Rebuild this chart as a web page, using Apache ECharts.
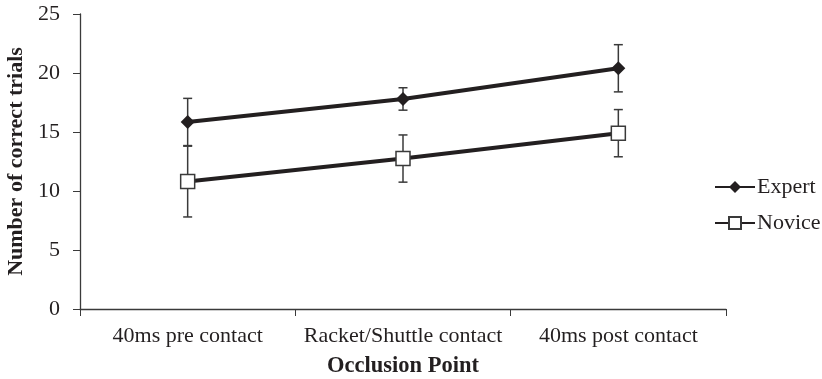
<!DOCTYPE html>
<html>
<head>
<meta charset="utf-8">
<script src="https://cdn.jsdelivr.net/npm/echarts@6/dist/echarts.min.js"></script>
<style>html,body{margin:0;padding:0;background:#fff;}#c{width:822px;height:379px;}</style>
</head>
<body>
<div id="c"></div>
<script>
var categories = ['40ms pre contact', 'Racket/Shuttle contact', '40ms post contact'];
var expertValues = [15.85, 17.8, 20.4];
var expertErrors = [2.0, 0.95, 2.0];
var noviceValues = [10.8, 12.75, 14.9];
var noviceErrors = [3.0, 2.0, 2.0];
var yTicks = [0, 5, 10, 15, 20, 25];

var ink = '#231f20';
var font = '"Liberation Serif", "Times New Roman", serif';

function errData(vals, errs) {
  return vals.map(function (v, i) { return [i, v - errs[i], v + errs[i]]; });
}
function errRender(params, api) {
  var lo = api.coord([api.value(0), api.value(1)]);
  var hi = api.coord([api.value(0), api.value(2)]);
  var hw = 4.5;
  var st = { stroke: '#3a3a3a', lineWidth: 1.5, fill: null };
  return {
    type: 'group',
    children: [
      { type: 'line', shape: { x1: lo[0], y1: lo[1], x2: hi[0], y2: hi[1] }, style: st },
      { type: 'line', shape: { x1: lo[0] - hw, y1: lo[1], x2: lo[0] + hw, y2: lo[1] }, style: st },
      { type: 'line', shape: { x1: hi[0] - hw, y1: hi[1], x2: hi[0] + hw, y2: hi[1] }, style: st }
    ]
  };
}

var chart = echarts.init(document.getElementById('c'));
chart.setOption({
  animation: false,
  backgroundColor: '#fff',
  grid: { left: 80, right: 96, top: 14, bottom: 70, containLabel: false, outerBoundsMode: 'none' },
  legend: {
    data: ['Expert', 'Novice'],
    orient: 'vertical',
    left: 709,
    top: 171,
    itemWidth: 40,
    itemHeight: 15,
    itemGap: 14,
    textStyle: { fontFamily: font, fontSize: 22, lineHeight: 22, color: ink, padding: [0, 0, 0, -3] }
  },
  xAxis: {
    type: 'category',
    data: categories,
    name: 'Occlusion Point',
    nameLocation: 'middle',
    nameGap: 46,
    nameTextStyle: { fontFamily: font, fontSize: 22.5, fontWeight: 'bold', color: ink },
    axisLine: { lineStyle: { color: '#3a3a3a', width: 1.3 } },
    axisTick: { show: true, length: 7, lineStyle: { color: '#3a3a3a' } },
    axisLabel: { fontFamily: font, fontSize: 22, color: ink, margin: 16, interval: 0, hideOverlap: false }
  },
  yAxis: {
    type: 'value',
    min: yTicks[0],
    max: yTicks[yTicks.length - 1],
    interval: 5,
    name: 'Number of correct trials',
    nameLocation: 'middle',
    nameGap: 52,
    nameTextStyle: { fontFamily: font, fontSize: 22, fontWeight: 'bold', color: ink },
    axisLine: { show: true, lineStyle: { color: '#3a3a3a', width: 1.3 } },
    axisTick: { show: true, length: 7, lineStyle: { color: '#3a3a3a' } },
    splitLine: { show: false },
    axisLabel: { fontFamily: font, fontSize: 22, color: ink, margin: 20 }
  },
  series: [
    {
      type: 'custom', name: 'ExpertErr', renderItem: errRender,
      data: errData(expertValues, expertErrors), z: 1, silent: true
    },
    {
      type: 'custom', name: 'NoviceErr', renderItem: errRender,
      data: errData(noviceValues, noviceErrors), z: 1, silent: true
    },
    {
      type: 'line', name: 'Expert', data: expertValues, z: 3,
      symbol: 'diamond', symbolSize: 14,
      lineStyle: { color: ink, width: 4 },
      itemStyle: { color: ink, borderColor: ink, borderWidth: 0 }
    },
    {
      type: 'line', name: 'Novice', data: noviceValues, z: 3,
      symbol: 'rect', symbolSize: 14,
      lineStyle: { color: ink, width: 4 },
      itemStyle: { color: '#fff', borderColor: '#3a3a3a', borderWidth: 1.5 }
    }
  ]
});
</script>
</body>
</html>
